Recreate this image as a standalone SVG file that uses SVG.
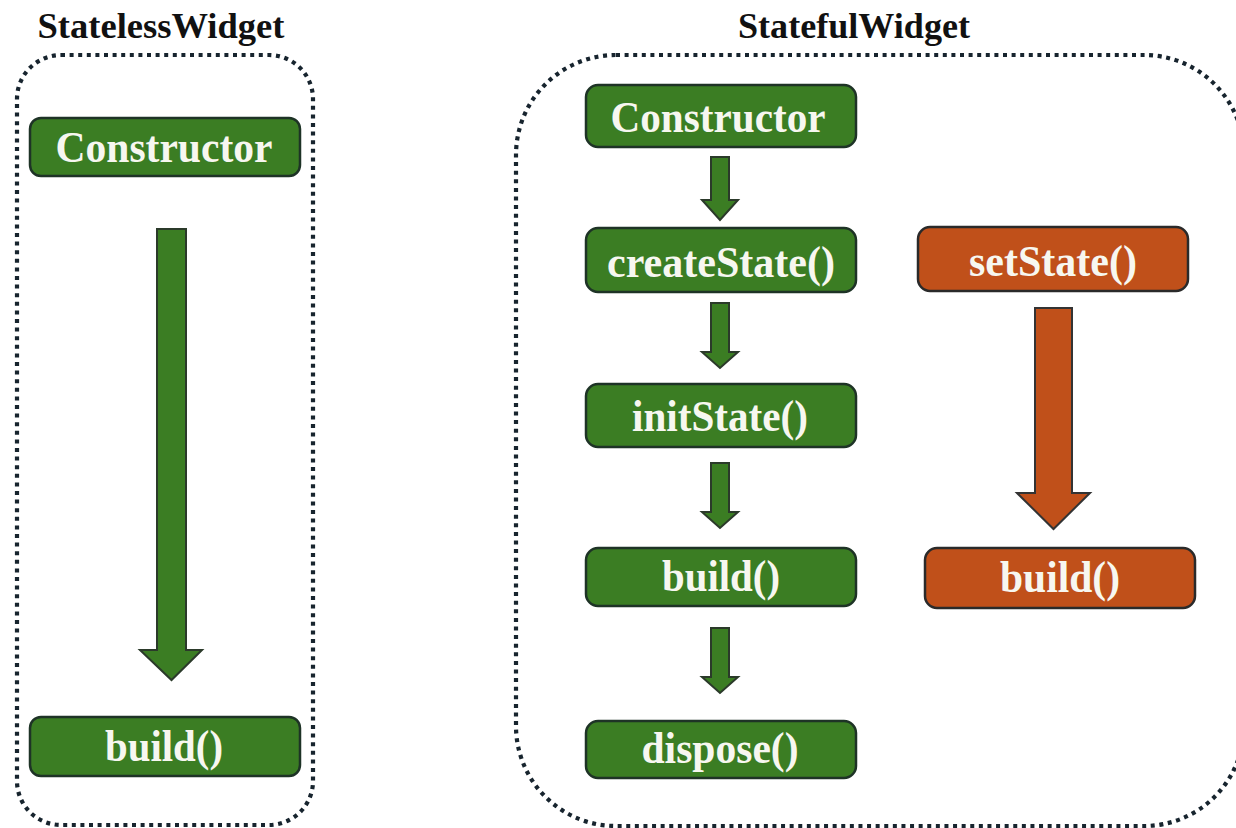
<svg xmlns="http://www.w3.org/2000/svg" width="1236" height="828" viewBox="0 0 1236 828">
  <style>
    .frame { fill: none; stroke: #17242e; stroke-width: 4.2; stroke-dasharray: 4 4.6; }
    .title { font-family: "Liberation Serif", "Times New Roman", serif; font-weight: bold; font-size: 36px; fill: #111111; text-anchor: middle; }
    .node-g rect { fill: #3b7d23; stroke: #1e3326; stroke-width: 2.5; }
    .node-o rect { fill: #c0501a; stroke: #2a2a2a; stroke-width: 2.5; }
    .label { font-family: "Liberation Serif", "Times New Roman", serif; font-weight: bold; font-size: 44px; fill: #f7f7f0; text-anchor: middle; }
    .arrow-g { fill: #3b7d23; stroke: #2b3a2a; stroke-width: 2; stroke-linejoin: miter; }
    .arrow-o { fill: #c0501a; stroke: #333333; stroke-width: 2; stroke-linejoin: miter; }
  </style>

  <rect width="1236" height="828" fill="#ffffff"/>

  <!-- containers -->
  <g id="stateless-frame">
    <rect class="frame" x="17" y="55" width="296" height="770" rx="44" ry="44"/>
    <text class="title" x="161" y="38" textLength="247" lengthAdjust="spacingAndGlyphs">StatelessWidget</text>
  </g>
  <g id="stateful-frame">
    <rect class="frame" x="516" y="55" width="728" height="771" rx="100" ry="100"/>
    <text class="title" x="854" y="38" textLength="232" lengthAdjust="spacingAndGlyphs">StatefulWidget</text>
  </g>

  <!-- connectors -->
  <g id="connectors">
    <path class="arrow-g" d="M157,229 H186 V650 H202 L171.5,680 L140,650 H157 Z"/>
    <path class="arrow-g" d="M711,157 H729 V200 H738 L720,220 L702,200 H711 Z"/>
    <path class="arrow-g" d="M711,303 H729 V352 H738 L720,368 L702,352 H711 Z"/>
    <path class="arrow-g" d="M711,463 H729 V512 H738 L720,528 L702,512 H711 Z"/>
    <path class="arrow-g" d="M711,628 H729 V677 H738 L720,693 L702,677 H711 Z"/>
    <path class="arrow-o" d="M1035,308 H1072 V493 H1090 L1053.5,529 L1017,493 H1035 Z"/>
  </g>

  <!-- StatelessWidget lifecycle -->
  <g id="sl-constructor" class="node-g">
    <rect x="30" y="118" width="270" height="58" rx="11"/>
    <text class="label" x="164" y="162" textLength="217" lengthAdjust="spacingAndGlyphs">Constructor</text>
  </g>
  <g id="sl-build" class="node-g">
    <rect x="30" y="717" width="270" height="59" rx="11"/>
    <text class="label" x="164" y="761" textLength="118" lengthAdjust="spacingAndGlyphs">build()</text>
  </g>

  <!-- StatefulWidget lifecycle -->
  <g id="sf-constructor" class="node-g">
    <rect x="586" y="85" width="270" height="62" rx="12"/>
    <text class="label" x="718" y="132" textLength="215" lengthAdjust="spacingAndGlyphs">Constructor</text>
  </g>
  <g id="sf-createstate" class="node-g">
    <rect x="586" y="228" width="270" height="64" rx="12"/>
    <text class="label" x="721" y="277" textLength="228" lengthAdjust="spacingAndGlyphs">createState()</text>
  </g>
  <g id="sf-initstate" class="node-g">
    <rect x="586" y="384" width="270" height="63" rx="12"/>
    <text class="label" x="720" y="431" textLength="176" lengthAdjust="spacingAndGlyphs">initState()</text>
  </g>
  <g id="sf-build" class="node-g">
    <rect x="586" y="548" width="270" height="58" rx="12"/>
    <text class="label" x="721" y="591" textLength="118" lengthAdjust="spacingAndGlyphs">build()</text>
  </g>
  <g id="sf-dispose" class="node-g">
    <rect x="586" y="721" width="270" height="57" rx="12"/>
    <text class="label" x="720" y="763" textLength="157" lengthAdjust="spacingAndGlyphs">dispose()</text>
  </g>

  <!-- rebuild path -->
  <g id="sf-setstate" class="node-o">
    <rect x="918" y="227" width="270" height="64" rx="12"/>
    <text class="label" x="1053" y="276" textLength="168" lengthAdjust="spacingAndGlyphs">setState()</text>
  </g>
  <g id="sf-rebuild" class="node-o">
    <rect x="925" y="548" width="270" height="60" rx="12"/>
    <text class="label" x="1060" y="592" textLength="120" lengthAdjust="spacingAndGlyphs">build()</text>
  </g>
</svg>
